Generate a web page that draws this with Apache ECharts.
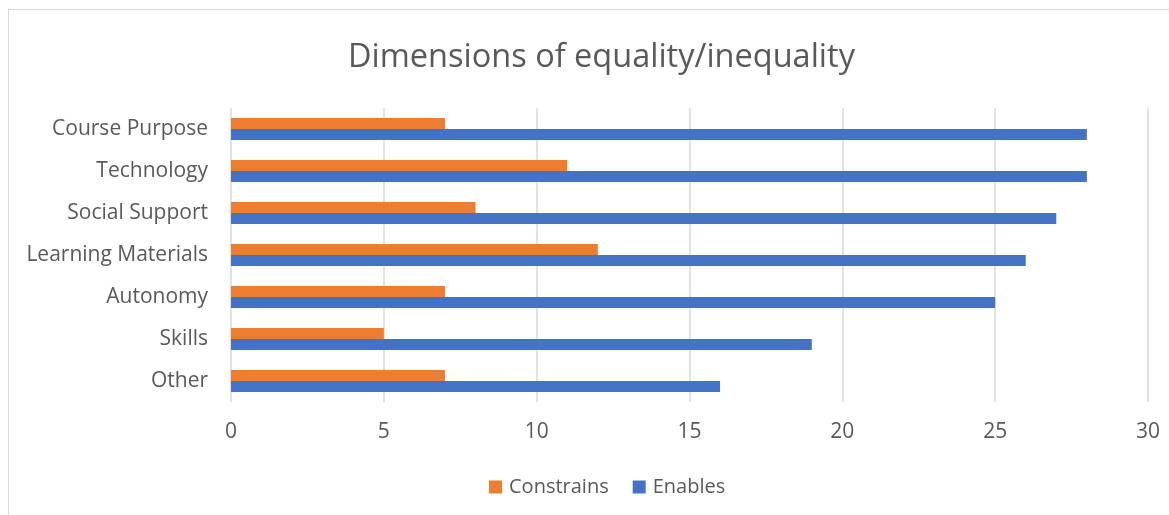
<!DOCTYPE html>
<html>
<head>
<meta charset="utf-8">
<script src="https://cdn.jsdelivr.net/npm/echarts@6/dist/echarts.min.js"></script>
<style>
  html, body { margin: 0; padding: 0; background: #ffffff; }
  #frame { position: absolute; left: 8px; top: 9px; width: 1200px; height: 560px; border: 1px solid #d9d9d9; box-sizing: border-box; }
  #chart { width: 1169px; height: 515px; position: absolute; left: 0; top: 0; }
</style>
</head>
<body>
<div id="frame"></div>
<div id="chart"></div>
<script>
// Dimensions listed top to bottom
const categories = ['Course Purpose', 'Technology', 'Social Support', 'Learning Materials', 'Autonomy', 'Skills', 'Other'];
const constrains = [7, 11, 8, 12, 7, 5, 7];
const enables = [28, 28, 27, 26, 25, 19, 16];
const xTicks = { min: 0, max: 30, interval: 5 };

const font = '"Open Sans", "Liberation Sans", sans-serif';
const textColor = '#595959';

const chart = echarts.init(document.getElementById('chart'), null, { renderer: 'canvas' });
chart.setOption({
  animation: false,
  backgroundColor: 'transparent',
  title: {
    text: 'Dimensions of equality/inequality',
    left: 343,
    top: 36,
    textStyle: { fontFamily: font, fontSize: 32.5, fontWeight: 'normal', color: textColor }
  },
  legend: {
    data: ['Constrains', 'Enables'],
    bottom: 13,
    left: 484,
    icon: 'rect',
    itemWidth: 13,
    itemHeight: 13,
    itemGap: 24,
    textStyle: { fontFamily: font, fontSize: 20, color: textColor, padding: [0, 0, 0, 2] }
  },
  grid: { left: 231, right: 21, top: 108, height: 294, containLabel: false },
  xAxis: {
    type: 'value',
    min: xTicks.min,
    max: xTicks.max,
    interval: xTicks.interval,
    axisLine: { show: false },
    axisTick: { show: false },
    axisLabel: { fontFamily: font, fontSize: 21, color: textColor, margin: 20 },
    splitLine: { lineStyle: { color: '#d9d9d9', width: 1.5 } }
  },
  yAxis: {
    type: 'category',
    data: categories,
    inverse: true,
    axisLine: { show: false },
    axisTick: { show: false },
    axisLabel: { fontFamily: font, fontSize: 21, color: textColor, margin: 23 }
  },
  series: [
    {
      name: 'Constrains',
      type: 'bar',
      data: constrains,
      barWidth: 11,
      barGap: '0%',
      itemStyle: { color: '#ED7D31' }
    },
    {
      name: 'Enables',
      type: 'bar',
      data: enables,
      barWidth: 11,
      barGap: '0%',
      itemStyle: { color: '#4472C4' }
    }
  ]
});
</script>
</body>
</html>
